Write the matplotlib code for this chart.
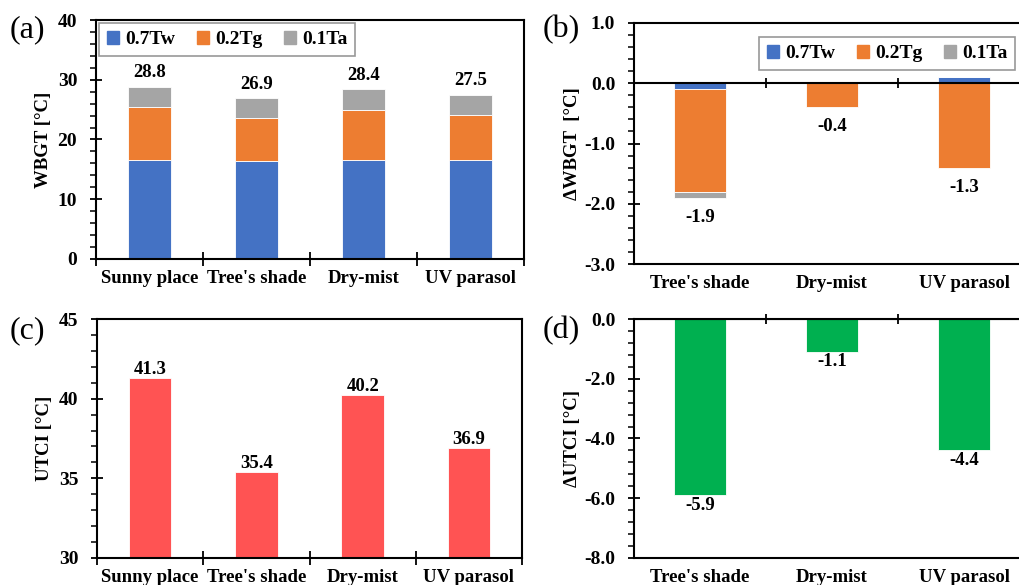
import matplotlib
matplotlib.use("Agg")
import matplotlib.pyplot as plt
import numpy as np
from matplotlib.ticker import MultipleLocator, FormatStrFormatter
from matplotlib.patches import Patch

plt.rcParams["font.family"] = ["Liberation Serif", "DejaVu Serif"]
plt.rcParams["font.weight"] = "bold"

# ---------------------------------------------------------------------------
# Data
# ---------------------------------------------------------------------------
sites = ["Sunny place", "Tree's shade", "Dry-mist", "UV parasol"]
wbgt_tw = [16.5, 16.4, 16.5, 16.5]
wbgt_tg = [8.9, 7.2, 8.5, 7.6]
wbgt_ta = [3.4, 3.3, 3.4, 3.4]

delta_sites = ["Tree's shade", "Dry-mist", "UV parasol"]
dwbgt_tw = [-0.1, 0.0, 0.1]
dwbgt_tg = [-1.7, -0.4, -1.4]
dwbgt_ta = [-0.1, 0.0, 0.0]

utci = [41.3, 35.4, 40.2, 36.9]
dutci = [-5.9, -1.1, -4.4]

comp_labels = ["0.7Tw", "0.2Tg", "0.1Ta"]
comp_colors = ["#4472C4", "#ED7D31", "#A5A5A5"]
UTCI_COLOR = "#FF5353"
DUTCI_COLOR = "#00B050"

BAR_W = 0.4
TICK_FS = 14
LAB_FS = 13.5
VAL_FS = 13.5
YLAB_FS = 13.5


def style_axes(ax, n, major, minor, fmt):
    ax.set_xlim(-0.5, n - 0.5)
    ax.yaxis.set_major_locator(MultipleLocator(major))
    ax.yaxis.set_minor_locator(MultipleLocator(minor))
    ax.yaxis.set_major_formatter(FormatStrFormatter(fmt))
    ax.tick_params(axis="y", which="major", direction="inout", length=9,
                   width=1.3, labelsize=TICK_FS, pad=9)
    ax.tick_params(axis="y", which="minor", direction="out", length=4,
                   width=1.1)
    for s in ax.spines.values():
        s.set_linewidth(1.5)
    for lab in ax.get_yticklabels():
        lab.set_fontweight("bold")


def category_ticks(ax, n, labels, separators=True):
    ax.set_xticks(np.arange(n))
    ax.set_xticklabels(labels, fontsize=LAB_FS, fontweight="bold")
    ax.tick_params(axis="x", which="major", length=0, pad=8)
    if separators:
        ax.set_xticks(np.arange(n + 1) - 0.5, minor=True)
        ax.tick_params(axis="x", which="minor", direction="inout",
                       length=10, width=1.3)


def zero_separators(ax, n, half):
    ax.axhline(0, color="black", lw=1.5, zorder=3)
    ax.vlines(np.arange(1, n) - 0.5, -half, half, color="black", lw=1.3,
              zorder=3, clip_on=False)


def make_legend(ax, anchor):
    handles = [Patch(color=c, label=l) for c, l in zip(comp_colors, comp_labels)]
    leg = ax.legend(handles=handles, loc="upper left", bbox_to_anchor=anchor,
                    bbox_transform=fig.transFigure, ncol=3, frameon=True,
                    fancybox=False, edgecolor="#7F7F7F", handlelength=0.65,
                    handleheight=0.65, handletextpad=0.3, columnspacing=1.1,
                    borderpad=0.4, borderaxespad=0,
                    prop={"size": 14, "weight": "bold"})
    leg.get_frame().set_linewidth(1.2)


fig = plt.figure(figsize=(10.2, 5.85), dpi=100)
ax_a = fig.add_axes([0.0941, 0.5573, 0.4196, 0.4085])
ax_b = fig.add_axes([0.6216, 0.5487, 0.3882, 0.4120])
ax_c = fig.add_axes([0.0951, 0.0462, 0.4167, 0.4085])
ax_d = fig.add_axes([0.6216, 0.0462, 0.3882, 0.4085])

# (a) stacked WBGT components
x = np.arange(len(sites))
bottom = np.zeros(len(sites))
for vals, col in zip([wbgt_tw, wbgt_tg, wbgt_ta], comp_colors):
    ax_a.bar(x, vals, BAR_W, bottom=bottom, color=col, edgecolor="white",
             linewidth=0.6, zorder=2)
    bottom += np.array(vals)
for xi, tot in zip(x, bottom):
    ax_a.annotate(f"{tot:.1f}", (xi, tot), xytext=(0, 4),
                  textcoords="offset points", ha="center", va="bottom",
                  fontsize=VAL_FS, fontweight="bold")
ax_a.set_ylim(0, 40)
style_axes(ax_a, len(sites), 10, 2, "%d")
category_ticks(ax_a, len(sites), sites)
ax_a.set_ylabel("WBGT [°C]", fontsize=YLAB_FS, fontweight="bold", labelpad=4)
make_legend(ax_a, (0.097, 0.9607))

# (b) stacked delta WBGT
xd = np.arange(len(delta_sites))
pos = np.zeros(len(delta_sites))
neg = np.zeros(len(delta_sites))
for vals, col in zip([dwbgt_tw, dwbgt_tg, dwbgt_ta], comp_colors):
    v = np.array(vals)
    base = np.where(v >= 0, pos, neg)
    ax_b.bar(xd, v, BAR_W, bottom=base, color=col, edgecolor="white",
             linewidth=0.6, zorder=2)
    pos += np.where(v >= 0, v, 0)
    neg += np.where(v < 0, v, 0)
for xi, low, tot in zip(xd, neg, pos + neg):
    ax_b.annotate(f"{tot:.1f}", (xi, low), xytext=(0, -8),
                  textcoords="offset points", ha="center", va="top",
                  fontsize=VAL_FS, fontweight="bold")
ax_b.set_ylim(-3, 1)
style_axes(ax_b, len(delta_sites), 1, 0.2, "%.1f")
category_ticks(ax_b, len(delta_sites), delta_sites, separators=False)
zero_separators(ax_b, len(delta_sites), 0.085)
ax_b.set_ylabel("ΔWBGT  [°C]", fontsize=YLAB_FS, fontweight="bold", labelpad=2)
make_legend(ax_b, (0.744, 0.9368))

# (c) UTCI
ax_c.bar(x, np.array(utci) - 30, BAR_W, bottom=30, color=UTCI_COLOR,
         edgecolor="white", linewidth=0.6, zorder=2)
for xi, v in zip(x, utci):
    ax_c.annotate(f"{v:.1f}", (xi, v), xytext=(0, 0),
                  textcoords="offset points", ha="center", va="bottom",
                  fontsize=VAL_FS, fontweight="bold")
ax_c.set_ylim(30, 45)
style_axes(ax_c, len(sites), 5, 1, "%d")
category_ticks(ax_c, len(sites), sites)
ax_c.set_ylabel("UTCI [°C]", fontsize=YLAB_FS, fontweight="bold", labelpad=4)

# (d) delta UTCI
ax_d.bar(xd, dutci, BAR_W, color=DUTCI_COLOR, edgecolor="white",
         linewidth=0.6, zorder=2)
for xi, v in zip(xd, dutci):
    ax_d.annotate(f"{v:.1f}", (xi, v), xytext=(0, -1),
                  textcoords="offset points", ha="center", va="top",
                  fontsize=VAL_FS, fontweight="bold")
ax_d.set_ylim(-8, 0)
style_axes(ax_d, len(delta_sites), 2, 0.4, "%.1f")
category_ticks(ax_d, len(delta_sites), delta_sites, separators=False)
zero_separators(ax_d, len(delta_sites), 0.17)
ax_d.set_ylabel("ΔUTCI [°C]", fontsize=YLAB_FS, fontweight="bold", labelpad=2)

# panel letters
for lab, px, py in [("(a)", 10, 30), ("(b)", 543, 30),
                    ("(c)", 10, 331), ("(d)", 543, 331)]:
    fig.text(px / 1020, 1 - py / 585, lab, fontsize=23, fontweight="normal",
             ha="left", va="center")

fig.savefig("out.png", dpi=100)
